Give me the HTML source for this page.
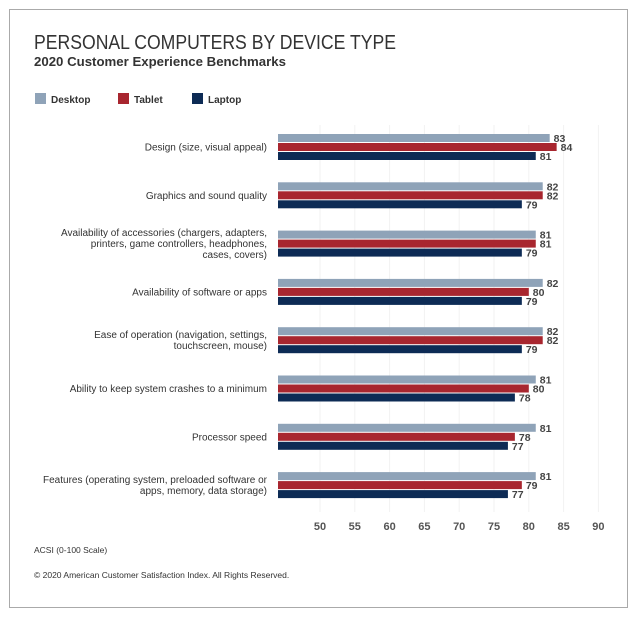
<!DOCTYPE html>
<html><head><meta charset="utf-8"><style>
body{margin:0;background:#fff;width:640px;height:619px;overflow:hidden;font-family:"Liberation Sans",sans-serif;}
</style></head><body>
<svg width="640" height="619" xmlns="http://www.w3.org/2000/svg" font-family="Liberation Sans, sans-serif">
<rect x="9.5" y="9.5" width="618" height="598" fill="#fff" stroke="#aaa" stroke-width="1"/>
<text x="34" y="49" font-size="20" fill="#333" textLength="362" lengthAdjust="spacingAndGlyphs">PERSONAL COMPUTERS BY DEVICE TYPE</text>
<text x="34" y="66" font-size="13" font-weight="bold" fill="#333" textLength="252" lengthAdjust="spacingAndGlyphs">2020 Customer Experience Benchmarks</text>
<rect x="35" y="93" width="11" height="11" fill="#8fa3b8"/><text x="51" y="103" font-size="10" font-weight="bold" fill="#333">Desktop</text>
<rect x="118" y="93" width="11" height="11" fill="#a8262f"/><text x="134" y="103" font-size="10" font-weight="bold" fill="#333">Tablet</text>
<rect x="192" y="93" width="11" height="11" fill="#0d2b55"/><text x="208" y="103" font-size="10" font-weight="bold" fill="#333">Laptop</text>
<g stroke="#f2f2f2" stroke-width="1">
<line x1="320" y1="125" x2="320" y2="512"/><line x1="354.8" y1="125" x2="354.8" y2="512"/><line x1="389.6" y1="125" x2="389.6" y2="512"/><line x1="424.4" y1="125" x2="424.4" y2="512"/><line x1="459.2" y1="125" x2="459.2" y2="512"/><line x1="494" y1="125" x2="494" y2="512"/><line x1="528.8" y1="125" x2="528.8" y2="512"/><line x1="563.6" y1="125" x2="563.6" y2="512"/><line x1="598.4" y1="125" x2="598.4" y2="512"/>
</g>
<g font-size="11" font-weight="bold" fill="#555" text-anchor="middle">
<text x="320" y="530">50</text><text x="354.8" y="530">55</text><text x="389.6" y="530">60</text><text x="424.4" y="530">65</text><text x="459.2" y="530">70</text><text x="494" y="530">75</text><text x="528.8" y="530">80</text><text x="563.6" y="530">85</text><text x="598.4" y="530">90</text>
</g>
<g id="bars"></g>
<g font-size="10" fill="#333" text-anchor="end" id="cats"></g>
<text x="34" y="553" font-size="8.5" fill="#333">ACSI (0-100 Scale)</text>
<text x="34" y="578" font-size="8.5" fill="#333">© 2020 American Customer Satisfaction Index. All Rights Reserved.</text>
<script>
var data=[[["Design (size, visual appeal)"],83,84,81],[["Graphics and sound quality"],82,82,79],[["Availability of accessories (chargers, adapters,","printers, game controllers, headphones,","cases, covers)"],81,81,79],[["Availability of software or apps"],82,80,79],[["Ease of operation (navigation, settings,","touchscreen, mouse)"],82,82,79],[["Ability to keep system crashes to a minimum"],81,80,78],[["Processor speed"],81,78,77],[["Features (operating system, preloaded software or","apps, memory, data storage)"],81,79,77]];
var cols=["#8fa3b8","#a8262f","#0d2b55"],ns="http://www.w3.org/2000/svg";
var B=document.getElementById("bars"),C=document.getElementById("cats");
function el(p,t,a,tx){var e=document.createElementNS(ns,t);for(var k in a)e.setAttribute(k,a[k]);if(tx!=null)e.textContent=tx;p.appendChild(e);return e;}
data.forEach(function(d,i){var y0=134+i*48.3;
for(var j=0;j<3;j++){var y=y0+j*9,x2=320+(d[j+1]-50)*6.96;
el(B,"rect",{x:278,y:y,width:x2-278,height:8,fill:cols[j]});
el(B,"text",{x:x2+4,y:y+8,"font-size":"10.5","font-weight":"bold",fill:"#444"},d[j+1]);}
var L=d[0],cy=y0+13,st=cy-(L.length-1)*11/2;
L.forEach(function(s,k){el(C,"text",{x:267,y:st+k*11+3.5},s);});});
</script>
</svg>
</body></html>
